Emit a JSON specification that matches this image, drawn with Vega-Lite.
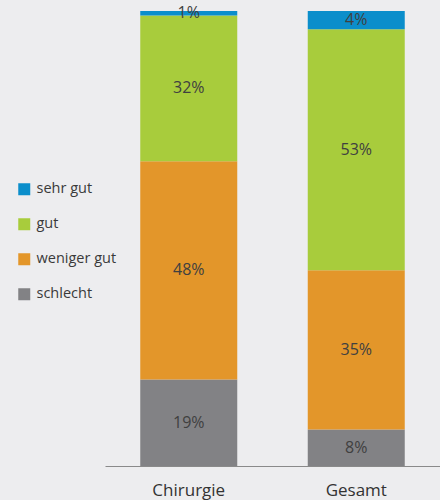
{
  "$schema": "https://vega.github.io/schema/vega-lite/v6.json",
  "autosize": {"type": "none"},
  "padding": {"left": 105, "top": 11, "right": 0, "bottom": 34},
  "width": 335,
  "height": 455,
  "background": "#EDEDEF",
  "config": {"view": {"stroke": null}, "font": "Open Sans"},
  "data": {
    "values": [
      {"gruppe": "Chirurgie", "bewertung": "schlecht", "rang": 1, "wert": 19},
      {"gruppe": "Chirurgie", "bewertung": "weniger gut", "rang": 2, "wert": 48},
      {"gruppe": "Chirurgie", "bewertung": "gut", "rang": 3, "wert": 32},
      {"gruppe": "Chirurgie", "bewertung": "sehr gut", "rang": 4, "wert": 1},
      {"gruppe": "Gesamt", "bewertung": "schlecht", "rang": 1, "wert": 8},
      {"gruppe": "Gesamt", "bewertung": "weniger gut", "rang": 2, "wert": 35},
      {"gruppe": "Gesamt", "bewertung": "gut", "rang": 3, "wert": 53},
      {"gruppe": "Gesamt", "bewertung": "sehr gut", "rang": 4, "wert": 4}
    ]
  },
  "transform": [
    {"stack": "wert", "groupby": ["gruppe"], "sort": [{"field": "rang", "order": "ascending"}], "as": ["w0", "w1"]},
    {"calculate": "(datum.w0 + datum.w1) / 2", "as": "mitte"},
    {"calculate": "datum.wert + '%'", "as": "beschriftung"}
  ],
  "encoding": {
    "x": {
      "field": "gruppe", "type": "nominal", "title": null,
      "scale": {"paddingInner": 0, "paddingOuter": 0},
      "axis": {"labelAngle": 0, "ticks": false, "domainColor": "#8a8a8a", "domainWidth": 1, "labelFontSize": 17, "labelColor": "#333333", "labelPadding": 16, "labelFont": "Open Sans"}
    }
  },
  "layer": [
    {
      "mark": {"type": "bar", "size": 97},
      "encoding": {
        "y": {"field": "w0", "type": "quantitative", "scale": {"domain": [0, 100]}, "axis": null},
        "y2": {"field": "w1"},
        "color": {
          "field": "bewertung", "type": "nominal",
          "scale": {"domain": ["sehr gut", "gut", "weniger gut", "schlecht"], "range": ["#0B8ECB", "#A8CC3C", "#E3962A", "#828285"]},
          "legend": {
            "title": null, "orient": "none", "legendX": -88, "legendY": 171,
            "symbolType": "square", "symbolSize": 144, "symbolStrokeWidth": 0,
            "labelFontSize": 14.5, "labelColor": "#3a3a3a", "labelFont": "Open Sans",
            "rowPadding": 20, "labelOffset": 5
          }
        }
      }
    },
    {
      "mark": {"type": "text", "fontSize": 16, "color": "#404040", "baseline": "middle"},
      "encoding": {
        "y": {"field": "mitte", "type": "quantitative"},
        "text": {"field": "beschriftung", "type": "nominal"}
      }
    }
  ]
}
